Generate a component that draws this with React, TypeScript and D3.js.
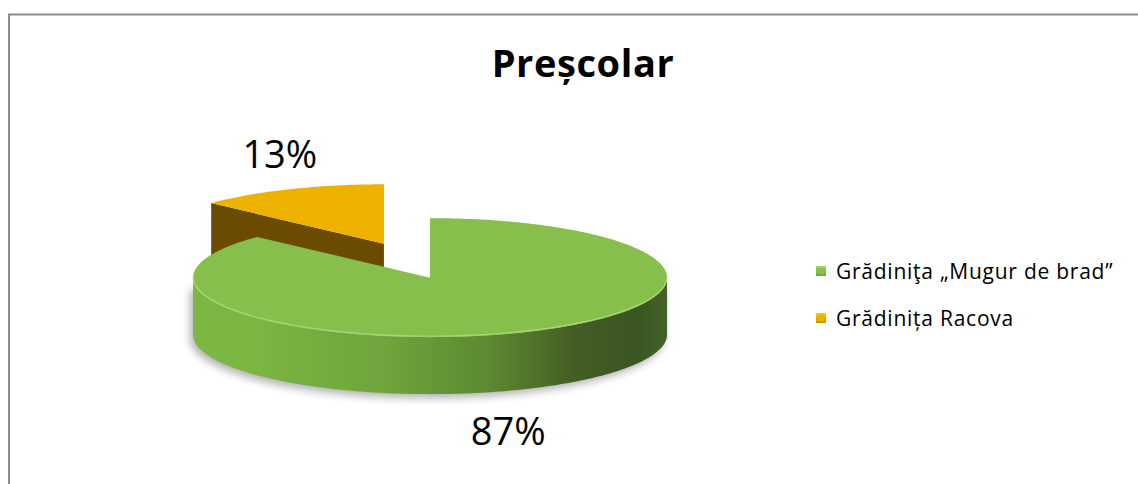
import React from "react";
import * as d3 from "d3";

const title = "Preșcolar";
const categories = ["Grădiniţa „Mugur de brad”", "Grădinița Racova"];
const values = [87, 13];
const valueLabels = ["87%", "13%"];
const topColors = ["#86BF4B", "#EDB100"];
const cutColors = ["#4E7A2A", "#6A4B00"];
const sideStops = [
  ["#7CB743", "#7CB743", "#6FA53C", "#5E8A31", "#445F24", "#3A5520", "#44622A"],
  ["#C99600", "#C99600", "#B08300", "#9A7200", "#7A5A00", "#6A4B00", "#6A4B00"],
];
const sideOffsets = [0, 0.1, 0.4, 0.62, 0.8, 0.93, 1];

const W = 1138;
const H = 484;
const FONT = "'Open Sans', Lato, 'DejaVu Sans', sans-serif";

export default function App() {
  const cx = 407;
  const cy = 260.7;
  const rx = 237;
  const ry = 59.5;
  const depth = 57;
  const explodeX = 0.245;
  const explodeY = 0.31;
  const labelNudge = [
    [-16, -3],
    [-10, 8],
  ];

  const pie = d3.pie<number>().sort(null).value((d) => d);
  const arcs = pie(values);

  const pt = (c: number[], a: number, dz: number): [number, number] => [
    c[0] + rx * Math.sin(a),
    c[1] - ry * Math.cos(a) + dz,
  ];
  const arcPts = (c: number[], a0: number, a1: number, dz: number) => {
    const n = Math.max(2, Math.ceil(Math.abs(a1 - a0) / 0.02));
    return d3.range(n + 1).map((i) => pt(c, a0 + ((a1 - a0) * i) / n, dz));
  };
  const line = d3.line();

  const slices = arcs.map((a, i) => {
    const mid = (a.startAngle + a.endAngle) / 2;
    const c = [cx + Math.sin(mid) * rx * explodeX, cy - Math.cos(mid) * ry * explodeY];
    return { i, a0: a.startAngle, a1: a.endAngle, mid, c };
  });

  const order = [1, 0];

  const renderSlice = (s: any) => {
    const { i, a0, a1, c } = s;
    const els: any[] = [];
    const startN = a0 - Math.PI / 2;
    if (Math.cos(startN) < -0.01) {
      const q = [[c[0], c[1]], pt(c, a0, 0), pt(c, a0, depth), [c[0], c[1] + depth]] as [number, number][];
      els.push(<path key={"cs" + i} d={line(q) + "Z"} fill={cutColors[i]} />);
    }
    const endN = a1 + Math.PI / 2;
    if (Math.cos(endN) < -0.01) {
      const q = [[c[0], c[1]], pt(c, a1, 0), pt(c, a1, depth), [c[0], c[1] + depth]] as [number, number][];
      els.push(<path key={"ce" + i} d={line(q) + "Z"} fill={cutColors[i]} />);
    }
    const s0 = Math.max(a0, Math.PI / 2);
    const s1 = Math.min(a1, (3 * Math.PI) / 2);
    if (s1 > s0) {
      const p = [...arcPts(c, s0, s1, 0), ...arcPts(c, s1, s0, depth)];
      els.push(<path key={"sd" + i} d={line(p) + "Z"} fill={`url(#side${i})`} />);
    }
    const top = [[c[0], c[1]] as [number, number], ...arcPts(c, a0, a1, 0)];
    els.push(<path key={"tp" + i} d={line(top) + "Z"} fill={topColors[i]} />);
    if (s1 > s0) {
      els.push(
        <path
          key={"rim" + i}
          d={line(arcPts(c, s0, s1, -1)) || ""}
          fill="none"
          stroke="#B4E07C"
          strokeWidth={1.4}
          opacity={0.7}
        />
      );
    }
    return <g key={"s" + i}>{els}</g>;
  };

  const main = slices[0];
  const shadowPts = [
    ...arcPts(main.c, Math.PI / 2, (3 * Math.PI) / 2, depth),
    [main.c[0] - rx, main.c[1] + 8] as [number, number],
    [main.c[0] + rx, main.c[1] + 8] as [number, number],
  ];

  const legendX = 816;
  const legendY0 = 271;
  const legendDy = 47;

  return (
    <svg
      width={W}
      height={H}
      style={{ position: "absolute", left: 0, top: 0, background: "#fff" }}
      fontFamily={FONT}
    >
      <defs>
        {slices.map((s) => (
          <linearGradient
            key={s.i}
            id={`side${s.i}`}
            gradientUnits="userSpaceOnUse"
            x1={s.c[0] - rx}
            x2={s.c[0] + rx}
            y1={0}
            y2={0}
          >
            {sideOffsets.map((o, k) => (
              <stop key={k} offset={o} stopColor={sideStops[s.i][k]} />
            ))}
          </linearGradient>
        ))}
        <filter id="blur" x="-20%" y="-20%" width="140%" height="140%">
          <feGaussianBlur stdDeviation={4} />
        </filter>
        {topColors.map((col, i) => (
          <linearGradient key={i} id={`leg${i}`} x1="0" y1="0" x2="0" y2="1">
            <stop offset="0" stopColor={d3.color(col)!.brighter(0.4).toString()} />
            <stop offset="1" stopColor={d3.color(col)!.darker(0.5).toString()} />
          </linearGradient>
        ))}
      </defs>
      <rect x={9} y={14.5} width={W + 20} height={H + 20} fill="#fff" stroke="#8C8C8C" strokeWidth={2} />
      <text
        x={583}
        y={77}
        textAnchor="middle"
        fontSize={38}
        letterSpacing={0.6}
        fontWeight="bold"
        fill="#000"
      >
        {title}
      </text>

      <path
        d={line(shadowPts) + "Z"}
        transform="translate(-3,4)"
        fill="#000"
        opacity={0.3}
        filter="url(#blur)"
      />
      {order.map((k) => renderSlice(slices[k]))}

      {slices.map((s) => {
        const front = Math.cos(s.mid) < 0;
        const lx = s.c[0] + Math.sin(s.mid) * rx * 1.0 + labelNudge[s.i][0];
        const ly = s.c[1] - Math.cos(s.mid) * ry * 1.8 + (front ? depth : 0) + labelNudge[s.i][1];
        return (
          <text
            key={"lb" + s.i}
            x={lx}
            y={ly}
            textAnchor="middle"
            dominantBaseline="central"
            fontSize={38}
            fill="#000"
          >
            {valueLabels[s.i]}
          </text>
        );
      })}

      {categories.map((name, i) => (
        <g key={"lg" + i} transform={`translate(${legendX},${legendY0 + i * legendDy})`}>
          <rect x={0} y={-5} width={10} height={10} fill={`url(#leg${i})`} />
          <rect x={2} y={-3} width={6} height={6} fill={topColors[i]} />
          <text
            x={20}
            y={0}
            dominantBaseline="central"
            fontSize={21}
            letterSpacing={0.75}
            fill="#000"
          >
            {name}
          </text>
        </g>
      ))}
    </svg>
  );
}
